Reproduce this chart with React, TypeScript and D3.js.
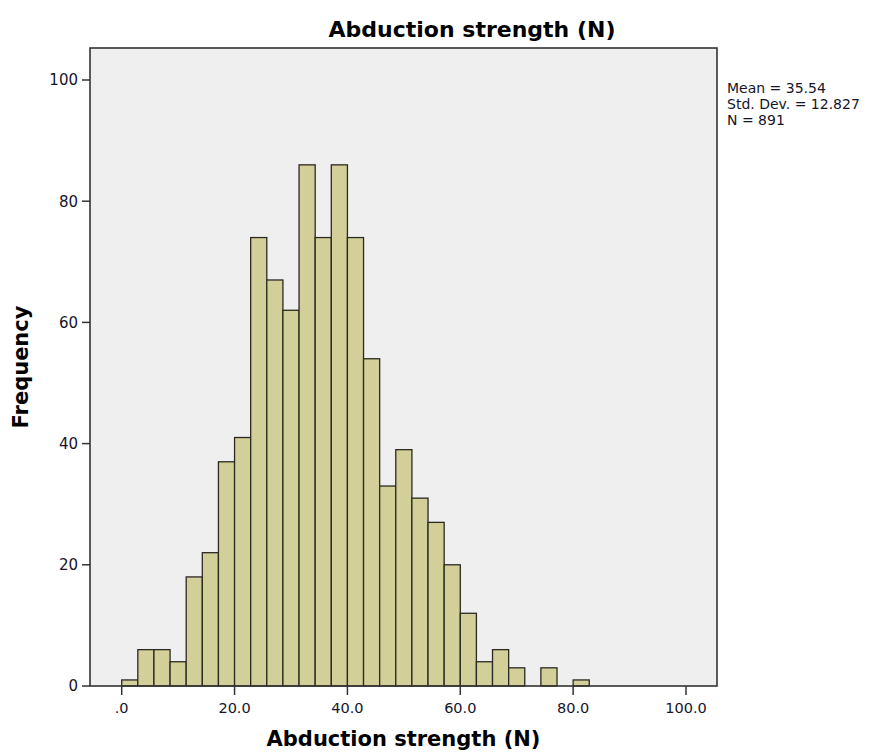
import React from "react";
import * as d3 from "d3";

// Histogram counts, one per bin; bins start at 0 and are 20/7 units wide
const binStart = 0;
const binWidth = 20 / 7;
const counts = [
  1, 6, 6, 4, 18, 22, 37, 41, 74, 67, 62, 86, 74, 86, 74, 54, 33, 39, 31, 27,
  20, 12, 4, 6, 3, 0, 3, 0, 1,
];
const xTicks = [0, 20, 40, 60, 80, 100];
const xTickLabels = [".0", "20.0", "40.0", "60.0", "80.0", "100.0"];
const yTicks = [0, 20, 40, 60, 80, 100];
const statsLines = ["Mean = 35.54", "Std. Dev. = 12.827", "N = 891"];
const chartTitle = "Abduction strength (N)";
const xLabel = "Abduction strength (N)";
const yLabel = "Frequency";

const W = 883;
const H = 754;
const frame = { left: 90, right: 717, top: 48, bottom: 686 };
const font = "'DejaVu Sans', Verdana, sans-serif";
const textColor = "#15152a";

export default function App() {
  const x = d3.scaleLinear().domain([0, 100]).range([121.7, 686]);
  const y = d3.scaleLinear().domain([0, 100]).range([686, 80]);

  const bars = counts.map((c, i) => ({
    x0: binStart + i * binWidth,
    x1: binStart + (i + 1) * binWidth,
    count: c,
  }));

  return (
    <svg
      width={W}
      height={H}
      style={{ position: "absolute", left: 0, top: 0, background: "#fff" }}
      fontFamily={font}
    >
      <defs>
        <filter id="soft" x="-5%" y="-5%" width="110%" height="110%">
          <feGaussianBlur stdDeviation="0.35" />
        </filter>
      </defs>

      {/* plot background */}
      <rect
        x={frame.left}
        y={frame.top}
        width={frame.right - frame.left}
        height={frame.bottom - frame.top}
        fill="#efefef"
      />

      {/* histogram bars */}
      <g filter="url(#soft)">
        {bars
          .filter((b) => b.count > 0)
          .map((b, i) => (
            <rect
              key={i}
              x={x(b.x0)}
              y={y(b.count)}
              width={x(b.x1) - x(b.x0)}
              height={y(0) - y(b.count)}
              fill="#d3cf98"
              stroke="#2a2a22"
              strokeWidth={1.3}
            />
          ))}
      </g>

      {/* frame */}
      <rect
        x={frame.left}
        y={frame.top}
        width={frame.right - frame.left}
        height={frame.bottom - frame.top}
        fill="none"
        stroke="#333"
        strokeWidth={1.6}
      />

      {/* y axis ticks */}
      {yTicks.map((t) => (
        <g key={t}>
          <line
            x1={frame.left - 8}
            x2={frame.left}
            y1={y(t)}
            y2={y(t)}
            stroke="#333"
            strokeWidth={1.5}
          />
          <text
            x={frame.left - 12}
            y={y(t)}
            dy="0.36em"
            textAnchor="end"
            fontSize={15}
            fill={textColor}
          >
            {t}
          </text>
        </g>
      ))}

      {/* x axis ticks */}
      {xTicks.map((t, i) => (
        <g key={t}>
          <line
            x1={x(t)}
            x2={x(t)}
            y1={frame.bottom}
            y2={frame.bottom + 9}
            stroke="#333"
            strokeWidth={1.5}
          />
          <text
            x={x(t)}
            y={712.5}
            textAnchor="middle"
            fontSize={14.5}
            fill={textColor}
          >
            {xTickLabels[i]}
          </text>
        </g>
      ))}

      {/* titles */}
      <text
        x={472}
        y={36.5}
        textAnchor="middle"
        fontSize={22}
        fontWeight="bold"
        fill="#000"
      >
        {chartTitle}
      </text>
      <text
        x={(frame.left + frame.right) / 2}
        y={746}
        textAnchor="middle"
        fontSize={21}
        fontWeight="bold"
        fill="#000"
      >
        {xLabel}
      </text>
      <text
        transform={`translate(28, ${(frame.top + frame.bottom) / 2}) rotate(-90)`}
        textAnchor="middle"
        fontSize={21}
        fontWeight="bold"
        fill="#000"
      >
        {yLabel}
      </text>

      {/* summary statistics */}
      {statsLines.map((s, i) => (
        <text
          key={s}
          x={727}
          y={93 + i * 16}
          fontSize={14}
          fill={textColor}
        >
          {s}
        </text>
      ))}
    </svg>
  );
}
